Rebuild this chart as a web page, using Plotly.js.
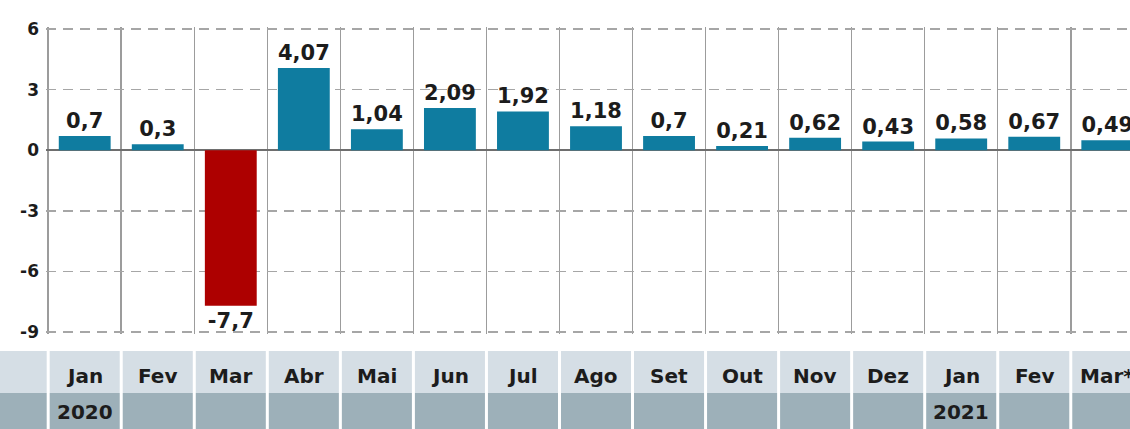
<!DOCTYPE html>
<html>
<head>
<meta charset="utf-8">
<script src="https://cdn.plot.ly/plotly-3.0.1.min.js"></script>
<style>
  html, body { margin: 0; padding: 0; background: #fff; overflow: hidden; width: 1130px; height: 429px; }
  #chart { width: 1160px; height: 429px; }
</style>
</head>
<body>
<div id="chart"></div>
<script>
// ---- data ----
const months = ['Jan', 'Fev', 'Mar', 'Abr', 'Mai', 'Jun', 'Jul', 'Ago', 'Set', 'Out', 'Nov', 'Dez', 'Jan', 'Fev', 'Mar*'];
const years  = ['2020', '', '', '', '', '', '', '', '', '', '', '', '2021', '', ''];
const values = [0.7, 0.3, -7.7, 4.07, 1.04, 2.09, 1.92, 1.18, 0.7, 0.21, 0.62, 0.43, 0.58, 0.67, 0.49];
const yTickVals = [6, 3, 0, -3, -6, -9];
const yTickText = ['6', '3', '0', '-3', '-6', '-9'];

// ---- styles ----
const BLUE = '#0f7ca0';
const RED = '#ad0000';
const TXT = '#1c1c1c';
const LIGHT = '#d5dee5';
const DARK = '#9db0b9';
const FONT = 'DejaVu Sans, Liberation Sans, Arial, sans-serif';

const idx = months.map((m, i) => i);
const bounds = months.map((m, i) => i - 0.5).concat([months.length - 0.5]);

const trace = {
  type: 'bar',
  x: idx,
  y: values,
  marker: { color: values.map(v => v < 0 ? RED : BLUE), line: { width: 0 } },
  width: 0.71,
  text: values.map(v => String(v).replace('.', ',')),
  textposition: 'outside',
  constraintext: 'none',
  cliponaxis: false,
  textfont: { family: FONT, size: 21, color: TXT, weight: 'bold' },
  outsidetextfont: { family: FONT, size: 21, color: TXT, weight: 'bold' },
  hoverinfo: 'skip'
};

const shapes = [];
// bands left stub
shapes.push({ type: 'rect', xref: 'paper', yref: 'paper', xsizemode: 'pixel', ysizemode: 'pixel',
  xanchor: 0, yanchor: 0, x0: -60, x1: 0, y0: -17, y1: -59, fillcolor: LIGHT, line: { width: 0 }, layer: 'below' });
shapes.push({ type: 'rect', xref: 'paper', yref: 'paper', xsizemode: 'pixel', ysizemode: 'pixel',
  xanchor: 0, yanchor: 0, x0: -60, x1: 0, y0: -59, y1: -110, fillcolor: DARK, line: { width: 0 }, layer: 'below' });
// bands under categories
shapes.push({ type: 'rect', xref: 'x', yref: 'paper', ysizemode: 'pixel', yanchor: 0,
  x0: -0.6, x1: months.length, y0: -17, y1: -59, fillcolor: LIGHT, line: { width: 0 }, layer: 'below' });
shapes.push({ type: 'rect', xref: 'x', yref: 'paper', ysizemode: 'pixel', yanchor: 0,
  x0: -0.6, x1: months.length, y0: -59, y1: -110, fillcolor: DARK, line: { width: 0 }, layer: 'below' });
// white separators
bounds.forEach(b => {
  shapes.push({ type: 'line', xref: 'x', yref: 'paper', ysizemode: 'pixel', yanchor: 0,
    x0: b, x1: b, y0: -17, y1: -110, line: { color: '#ffffff', width: 3 } });
});

const annotations = [];
months.forEach((m, i) => {
  annotations.push({ x: i, y: 0, xref: 'x', yref: 'paper', yshift: -42, yanchor: 'middle', xanchor: 'center',
    text: m, showarrow: false, font: { family: FONT, size: 20, color: TXT, weight: 'bold' } });
});
years.forEach((yv, i) => {
  if (!yv) return;
  annotations.push({ x: i, y: 0, xref: 'x', yref: 'paper', yshift: -78, yanchor: 'middle', xanchor: 'center',
    text: yv, showarrow: false, font: { family: FONT, size: 20, color: TXT, weight: 'bold' } });
});

const layout = {
  width: 1160,
  height: 429,
  margin: { l: 46, r: 14, t: 27, b: 95 },
  paper_bgcolor: '#ffffff',
  plot_bgcolor: '#ffffff',
  showlegend: false,
  bargap: 0.29,
  xaxis: {
    range: [-0.53, months.length - 0.47],
    tickmode: 'array',
    tickvals: bounds,
    showticklabels: false,
    ticks: '',
    showgrid: true,
    gridcolor: '#9c9c9c',
    gridwidth: 1.5,
    zeroline: false,
    showline: false,
    fixedrange: true
  },
  yaxis: {
    range: [-9.1, 6.1],
    tickmode: 'array',
    tickvals: yTickVals,
    ticktext: yTickText,
    ticks: '',
    ticklabelstandoff: 6,
    tickfont: { family: FONT, size: 17, color: TXT, weight: 'bold' },
    showgrid: true,
    gridcolor: '#a6a6a6',
    gridwidth: 1.5,
    griddash: '10px,7px',
    zeroline: true,
    zerolinecolor: '#6e6e6e',
    zerolinewidth: 2,
    showline: false,
    fixedrange: true
  },
  shapes: shapes,
  annotations: annotations
};

Plotly.newPlot('chart', [trace], layout, { displayModeBar: false, staticPlot: true });
</script>
</body>
</html>
